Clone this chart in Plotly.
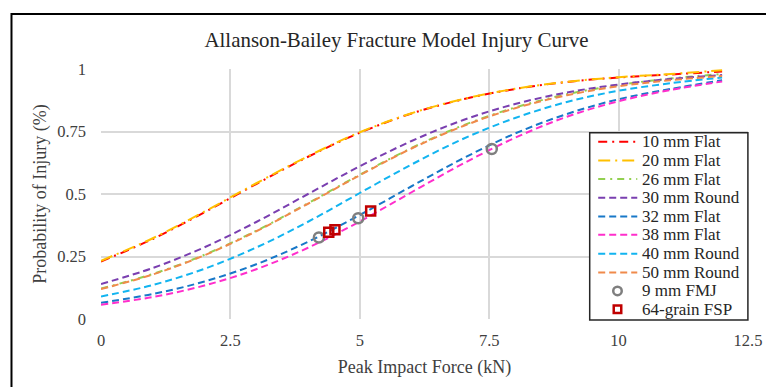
import plotly.graph_objects as go

force_kn = [0, 1, 2, 3, 4, 5, 6, 7, 8, 9, 10, 11, 12]

p_10mm_flat = [0.230, 0.320, 0.427, 0.540, 0.649, 0.745, 0.822, 0.879, 0.920, 0.948, 0.966, 0.978, 0.990]
p_20mm_flat = [0.233, 0.323, 0.430, 0.543, 0.651, 0.747, 0.823, 0.880, 0.921, 0.949, 0.967, 0.980, 0.995]
p_26mm_flat = [0.122, 0.180, 0.257, 0.353, 0.463, 0.577, 0.684, 0.775, 0.846, 0.899, 0.936, 0.962, 0.980]
p_30mm_round = [0.140, 0.204, 0.287, 0.388, 0.500, 0.611, 0.712, 0.796, 0.860, 0.906, 0.938, 0.960, 0.976]
p_32mm_flat = [0.065, 0.100, 0.150, 0.219, 0.309, 0.416, 0.531, 0.643, 0.742, 0.820, 0.879, 0.920, 0.955]
p_38mm_flat = [0.057, 0.088, 0.134, 0.199, 0.285, 0.390, 0.507, 0.622, 0.725, 0.809, 0.871, 0.916, 0.950]
p_40mm_round = [0.090, 0.136, 0.201, 0.286, 0.389, 0.504, 0.618, 0.721, 0.804, 0.868, 0.913, 0.943, 0.966]
p_50mm_round = [0.120, 0.178, 0.255, 0.351, 0.461, 0.575, 0.682, 0.772, 0.843, 0.895, 0.931, 0.955, 0.972]

fmj_force = [4.21, 4.97, 7.55]
fmj_prob = [0.326, 0.403, 0.680]
fsp_force = [4.40, 4.52, 5.21]
fsp_prob = [0.347, 0.357, 0.432]

x_ticks = [0, 2.5, 5, 7.5, 10, 12.5]
x_tick_labels = ["0", "2.5", "5", "7.5", "10", "12.5"]
y_ticks = [0, 0.25, 0.5, 0.75, 1]
y_tick_labels = ["0", "0.25", "0.5", "0.75", "1"]

curves = [
    ("10 mm Flat", p_10mm_flat, "#FF0000", "9px,5px,2px,5px"),
    ("20 mm Flat", p_20mm_flat, "#FFC000", "12px,5px,2px,5px"),
    ("26 mm Flat", p_26mm_flat, "#92D050", "7px,5px,2px,5px"),
    ("30 mm Round", p_30mm_round, "#7A3FB0", "7px,4px"),
    ("32 mm Flat", p_32mm_flat, "#1878C8", "7px,4px"),
    ("38 mm Flat", p_38mm_flat, "#FF2ECC", "7px,4px"),
    ("40 mm Round", p_40mm_round, "#12B4F0", "7px,4px"),
    ("50 mm Round", p_50mm_round, "#F08A4B", "7px,4px"),
]
fmj_color = "#7F7F7F"
fsp_color = "#C00000"

serif = "Liberation Serif"

# body margin is removed below, so figure pixels = window pixels
W, H = 766, 387
PLOT_L, PLOT_R, PLOT_T, PLOT_B = 101.4, 747.6, 68.6, 319.4
ML, MR = PLOT_L, W - PLOT_R
MT, MB = PLOT_T, H - PLOT_B
PW, PH = PLOT_R - PLOT_L, PLOT_B - PLOT_T


def px_x(px):
    return (px - PLOT_L) / PW


def px_y(py):
    return (PLOT_B - py) / PH


fig = go.Figure()
for name, vals, color, dash in curves:
    fig.add_trace(go.Scatter(
        x=force_kn, y=vals, mode="lines", name=name, showlegend=False,
        line=dict(color=color, width=2, dash=dash, shape="spline"),
    ))

fig.add_trace(go.Scatter(
    x=fmj_force, y=fmj_prob, mode="markers", name="9 mm FMJ", showlegend=False,
    marker=dict(symbol="circle-open", size=10, color=fmj_color, line=dict(width=2.5, color=fmj_color)),
))
fig.add_trace(go.Scatter(
    x=fsp_force, y=fsp_prob, mode="markers", name="64-grain FSP", showlegend=False,
    marker=dict(symbol="square-open", size=9, color=fsp_color, line=dict(width=2.5, color=fsp_color)),
))

fig.update_layout(
    width=W, height=H,
    margin=dict(l=ML, r=MR, t=MT, b=MB, pad=0, autoexpand=False),
    paper_bgcolor="white", plot_bgcolor="white",
    font=dict(family=serif, size=16.5, color="#404040"),
    title=dict(text="Allanson-Bailey Fracture Model Injury Curve",
               x=396.5 / W, xanchor="center", y=1 - 40 / H, yanchor="middle",
               font=dict(family=serif, size=20.9, color="#262626")),
    xaxis=dict(range=[0, 12.5], tickvals=x_ticks, ticktext=x_tick_labels,
               showgrid=True, gridcolor="#D9D9D9", gridwidth=1.5,
               zeroline=False, showline=False, ticks="", automargin=False,
               ticklabelstandoff=9, ticklabeloverflow="allow",
               tickfont=dict(family=serif, size=16.5, color="#404040"),
               title=dict(text="Peak Impact Force (kN)", standoff=11,
                          font=dict(family=serif, size=18, color="#404040"))),
    yaxis=dict(range=[0, 1], tickvals=y_ticks, ticktext=y_tick_labels,
               showgrid=True, gridcolor="#D9D9D9", gridwidth=1.5,
               zeroline=False, showline=False, ticks="", ticklabelstandoff=14,
               automargin=False,
               tickfont=dict(family=serif, size=16.5, color="#404040"),
               title=dict(text="Probability of Injury (%)", standoff=5,
                          font=dict(family=serif, size=18, color="#404040"))),
    showlegend=False,
)

# legend box
fig.add_shape(type="rect", xref="paper", yref="paper",
              x0=px_x(589.5), x1=px_x(747.5), y0=px_y(320.5), y1=px_y(132.5),
              line=dict(color="#262626", width=1.5), fillcolor="white", layer="above")

legend_rows = [(c[0], c[2], c[3]) for c in curves]
row_y = [141.7, 160.3, 179.0, 197.7, 216.5, 235.0, 254.0, 272.7, 291.2, 309.6]
for i, (name, color, dash) in enumerate(legend_rows):
    yy = px_y(row_y[i])
    fig.add_shape(type="line", xref="paper", yref="paper",
                  x0=px_x(598), x1=px_x(637), y0=yy, y1=yy,
                  line=dict(color=color, width=2, dash=dash), layer="above")
    fig.add_annotation(xref="paper", yref="paper", x=px_x(640), y=yy,
                       text=name, showarrow=False, xanchor="left", yanchor="middle",
                       font=dict(family=serif, size=17, color="#262626"))

# marker legend rows
yy = px_y(row_y[8])
fig.add_shape(type="circle", xref="paper", yref="paper",
              x0=px_x(613), x1=px_x(621.5), y0=px_y(row_y[8] + 4.25), y1=px_y(row_y[8] - 4.25),
              line=dict(color=fmj_color, width=2.5), layer="above")
fig.add_annotation(xref="paper", yref="paper", x=px_x(640), y=yy,
                   text="9 mm FMJ", showarrow=False, xanchor="left", yanchor="middle",
                   font=dict(family=serif, size=17, color="#262626"))
yy = px_y(row_y[9])
fig.add_shape(type="rect", xref="paper", yref="paper",
              x0=px_x(613.5), x1=px_x(621), y0=px_y(row_y[9] + 3.75), y1=px_y(row_y[9] - 3.75),
              line=dict(color=fsp_color, width=2.5), layer="above")
fig.add_annotation(xref="paper", yref="paper", x=px_x(640), y=yy,
                   text="64-grain FSP", showarrow=False, xanchor="left", yanchor="middle",
                   font=dict(family=serif, size=17, color="#262626"))

# outer chart frame
fig.add_shape(type="rect", xref="paper", yref="paper",
              x0=px_x(12), x1=px_x(800), y0=px_y(420), y1=px_y(13.5),
              line=dict(color="black", width=2), fillcolor="rgba(0,0,0,0)", layer="above")

fig.write_html("out.html", config={"displayModeBar": False},
               post_script="document.body.style.margin='0';")
